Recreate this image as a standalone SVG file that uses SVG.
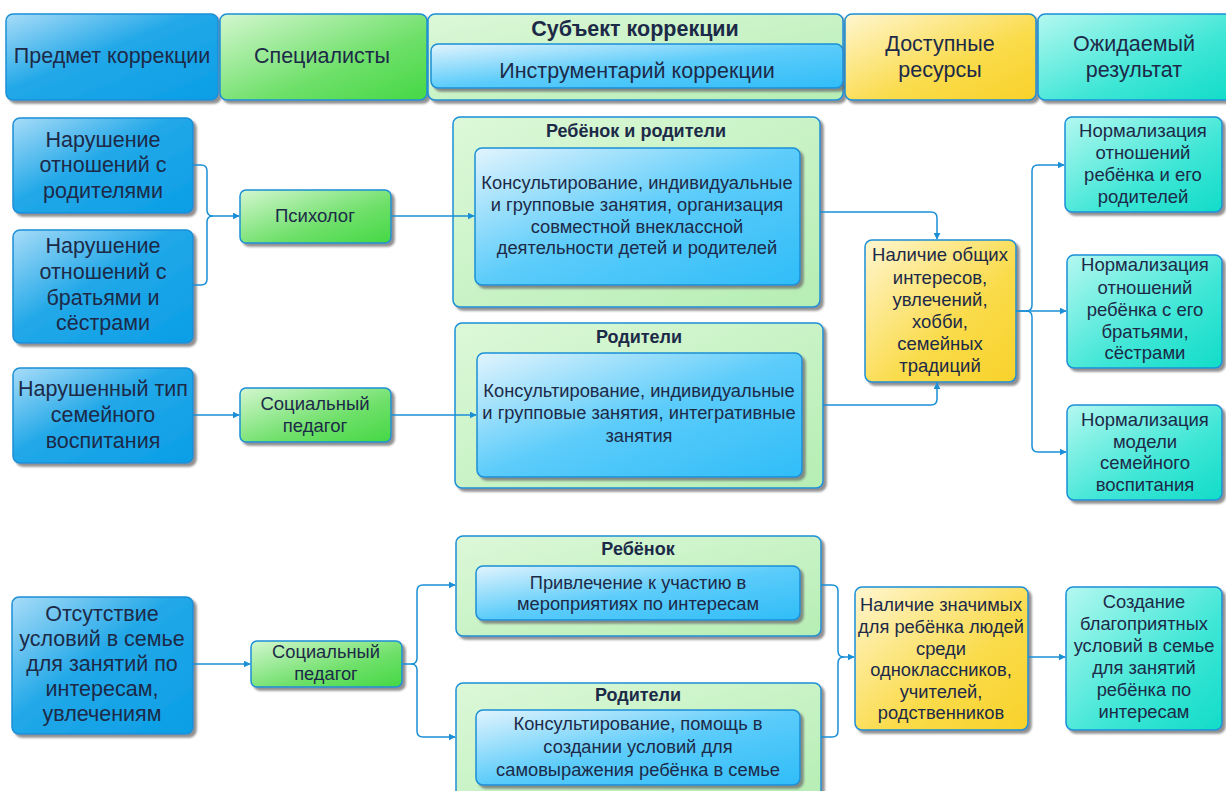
<svg xmlns="http://www.w3.org/2000/svg" width="1226" height="791" viewBox="0 0 1226 791">
<defs>
<linearGradient id="gBlue" x1="0" y1="0" x2="1" y2="1"><stop offset="0" stop-color="#a8dcf8"/><stop offset="0.45" stop-color="#22a8e8"/><stop offset="1" stop-color="#0a9ee6"/></linearGradient>
<linearGradient id="gGreen" x1="0" y1="0" x2="1" y2="1"><stop offset="0" stop-color="#d4f7d0"/><stop offset="0.6" stop-color="#6fe06a"/><stop offset="1" stop-color="#45d845"/></linearGradient>
<linearGradient id="gLGreen" x1="0" y1="0" x2="1" y2="1"><stop offset="0" stop-color="#dcf8d8"/><stop offset="1" stop-color="#b6eeb4"/></linearGradient>
<linearGradient id="gInner" x1="0" y1="0" x2="1" y2="1"><stop offset="0" stop-color="#e2f4fd"/><stop offset="0.5" stop-color="#5cccfa"/><stop offset="1" stop-color="#30bdf8"/></linearGradient>
<linearGradient id="gYellow" x1="0" y1="0" x2="1" y2="1"><stop offset="0" stop-color="#fff6d0"/><stop offset="0.6" stop-color="#fadb4a"/><stop offset="1" stop-color="#f8d22a"/></linearGradient>
<linearGradient id="gTeal" x1="0" y1="0" x2="1" y2="1"><stop offset="0" stop-color="#b4f8f0"/><stop offset="0.6" stop-color="#3fe6d6"/><stop offset="1" stop-color="#12dcc8"/></linearGradient>
<filter id="sh" x="-5%" y="-5%" width="115%" height="120%"><feDropShadow dx="3" dy="3" stdDeviation="1" flood-color="#6a6a6a" flood-opacity="0.75"/></filter>
<marker id="arr" viewBox="0 0 10 10" refX="9" refY="5" markerWidth="7" markerHeight="7" orient="auto" markerUnits="userSpaceOnUse"><path d="M0,0 L10,5 L0,10 z" fill="#1a8fd6"/></marker>
<style>
.box{stroke:#1a8fd6;stroke-width:1.5;filter:url(#sh)}
.blue{fill:url(#gBlue)}
.green{fill:url(#gGreen)}
.lgreen{fill:url(#gLGreen)}
.inner{fill:url(#gInner)}
.yellow{fill:url(#gYellow)}
.teal{fill:url(#gTeal)}
text{font-family:"Liberation Sans",Arial,sans-serif;fill:#1c2a48;text-anchor:middle}
.h{font-size:21.5px}
.hb{font-size:21.5px;font-weight:bold}
.l{font-size:21.5px}
.m{font-size:18.5px}
.s{font-size:18.3px}
.t{font-size:18px;font-weight:bold}
.c{fill:none;stroke:#1a8fd6;stroke-width:1.5}
</style>
</defs>
<rect width="1226" height="791" fill="#ffffff"/>

<g id="header">
<g id="h1"><rect class="box blue" x="6" y="14" width="212" height="86" rx="7"/><text class="h" x="112" y="63">Предмет коррекции</text></g>
<g id="h2"><rect class="box green" x="220" y="14" width="207" height="86" rx="7"/><text class="h" x="322" y="63">Специалисты</text></g>
<g id="h3"><rect class="box lgreen" x="428" y="14" width="415" height="86" rx="7"/><text class="hb" x="635" y="36">Субъект коррекции</text>
<rect class="box inner" x="431" y="44" width="412" height="44" rx="7"/><text class="h" x="637" y="78">Инструментарий коррекции</text></g>
<g id="h4"><rect class="box yellow" x="845" y="14" width="191" height="86" rx="7"/><text class="h" x="940" y="51">Доступные</text><text class="h" x="940" y="77">ресурсы</text></g>
<g id="h5"><rect class="box teal" x="1038" y="14" width="194" height="86" rx="7"/><text class="h" x="1134" y="51">Ожидаемый</text><text class="h" x="1134" y="77">результат</text></g>
</g>

<g id="p1"><rect class="box blue" x="13" y="118" width="180" height="95" rx="7"/>
<text class="l" x="103" y="147">Нарушение</text><text class="l" x="103" y="172">отношений с</text><text class="l" x="103" y="198">родителями</text></g>
<g id="p2"><rect class="box blue" x="13" y="230" width="180" height="113" rx="7"/>
<text class="l" x="103" y="253">Нарушение</text><text class="l" x="103" y="279">отношений с</text><text class="l" x="103" y="305">братьями и</text><text class="l" x="103" y="330">сёстрами</text></g>
<g id="p3"><rect class="box blue" x="13" y="368" width="180" height="95" rx="7"/>
<text class="l" x="103" y="396">Нарушенный тип</text><text class="l" x="103" y="422">семейного</text><text class="l" x="103" y="448">воспитания</text></g>

<g id="s1"><rect class="box green" x="240" y="190" width="151" height="53" rx="6"/><text class="m" x="315" y="222">Психолог</text></g>
<g id="s2"><rect class="box green" x="240" y="388" width="151" height="54" rx="6"/><text class="m" x="315" y="410">Социальный</text><text class="m" x="315" y="432">педагог</text></g>

<g id="g1"><rect class="box lgreen" x="453" y="117" width="367" height="190" rx="7"/><text class="t" x="636" y="137">Ребёнок и родители</text>
<rect class="box inner" x="475" y="148" width="325" height="137" rx="7"/>
<text class="s" x="637" y="189">Консультирование, индивидуальные</text><text class="s" x="637" y="211">и групповые занятия, организация</text><text class="s" x="637" y="233">совместной внеклассной</text><text class="s" x="637" y="254">деятельности детей и родителей</text></g>
<g id="g2"><rect class="box lgreen" x="455" y="323" width="368" height="165" rx="7"/><text class="t" x="639" y="343">Родители</text>
<rect class="box inner" x="477" y="353" width="325" height="124" rx="7"/>
<text class="s" x="639" y="397">Консультирование, индивидуальные</text><text class="s" x="639" y="419">и групповые занятия, интегративные</text><text class="s" x="639" y="442">занятия</text></g>

<g id="r1"><rect class="box yellow" x="865" y="240" width="151" height="142" rx="7"/>
<text class="m" x="940" y="261">Наличие общих</text><text class="m" x="940" y="284">интересов,</text><text class="m" x="940" y="306">увлечений,</text><text class="m" x="940" y="328">хобби,</text><text class="m" x="940" y="350">семейных</text><text class="m" x="940" y="372">традиций</text></g>

<g id="e1"><rect class="box teal" x="1065" y="117" width="157" height="95" rx="7"/>
<text class="m" x="1143" y="137">Нормализация</text><text class="m" x="1143" y="159">отношений</text><text class="m" x="1143" y="181">ребёнка и его</text><text class="m" x="1143" y="203">родителей</text></g>
<g id="e2"><rect class="box teal" x="1067" y="255" width="155" height="113" rx="7"/>
<text class="m" x="1145" y="271">Нормализация</text><text class="m" x="1145" y="294">отношений</text><text class="m" x="1145" y="316">ребёнка с его</text><text class="m" x="1145" y="338">братьями,</text><text class="m" x="1145" y="359">сёстрами</text></g>
<g id="e3"><rect class="box teal" x="1067" y="405" width="155" height="95" rx="7"/>
<text class="m" x="1145" y="426">Нормализация</text><text class="m" x="1145" y="448">модели</text><text class="m" x="1145" y="469">семейного</text><text class="m" x="1145" y="491">воспитания</text></g>

<g id="p4"><rect class="box blue" x="12" y="597" width="181" height="137" rx="7"/>
<text class="l" x="102" y="621">Отсутствие</text><text class="l" x="102" y="646">условий в семье</text><text class="l" x="102" y="671">для занятий по</text><text class="l" x="102" y="696">интересам,</text><text class="l" x="102" y="721">увлечениям</text></g>

<g id="s3"><rect class="box green" x="251" y="641" width="151" height="46" rx="6"/><text class="s" x="326" y="658">Социальный</text><text class="s" x="326" y="680">педагог</text></g>

<g id="g3"><rect class="box lgreen" x="456" y="536" width="365" height="100" rx="7"/><text class="t" x="638" y="555">Ребёнок</text>
<rect class="box inner" x="476" y="566" width="324" height="54" rx="7"/>
<text class="s" x="638" y="589">Привлечение к участию в</text><text class="s" x="638" y="610">мероприятиях по интересам</text></g>
<g id="g4"><rect class="box lgreen" x="456" y="683" width="365" height="115" rx="7"/><text class="t" x="638" y="701">Родители</text>
<rect class="box inner" x="476" y="710" width="324" height="75" rx="7"/>
<text class="s" x="638" y="730">Консультирование, помощь в</text><text class="s" x="638" y="753">создании условий для</text><text class="s" x="638" y="776">самовыражения ребёнка в семье</text></g>

<g id="r2"><rect class="box yellow" x="855" y="587" width="173" height="143" rx="7"/>
<text class="s" x="941" y="611">Наличие значимых</text><text class="s" x="941" y="633">для ребёнка людей</text><text class="s" x="941" y="655">среди</text><text class="s" x="941" y="676">одноклассников,</text><text class="s" x="941" y="698">учителей,</text><text class="s" x="941" y="719">родственников</text></g>

<g id="e4"><rect class="box teal" x="1066" y="587" width="156" height="143" rx="7"/>
<text class="s" x="1144" y="608">Создание</text><text class="s" x="1144" y="630">благоприятных</text><text class="s" x="1144" y="652">условий в семье</text><text class="s" x="1144" y="674">для занятий</text><text class="s" x="1144" y="696">ребёнка по</text><text class="s" x="1144" y="718">интересам</text></g>

<g id="connectors">
<path class="c" d="M193,165 H201 Q207,165 207,171 V210 Q207,216 213,216 H239" marker-end="url(#arr)"/>
<path class="c" d="M193,285 H201 Q207,285 207,279 V222 Q207,216 213,216"/>
<path class="c" d="M193,415 H239" marker-end="url(#arr)"/>
<path class="c" d="M391,216 H474" marker-end="url(#arr)"/>
<path class="c" d="M391,415 H476" marker-end="url(#arr)"/>
<path class="c" d="M820,212 H931 Q937,212 937,218 V239" marker-end="url(#arr)"/>
<path class="c" d="M823,405 H931 Q937,405 937,399 V383" marker-end="url(#arr)"/>
<path class="c" d="M1016,311 H1026 Q1032,311 1032,305 V171 Q1032,165 1038,165 H1064" marker-end="url(#arr)"/>
<path class="c" d="M1016,311 H1066" marker-end="url(#arr)"/>
<path class="c" d="M1026,311 Q1032,311 1032,317 V446 Q1032,452 1038,452 H1066" marker-end="url(#arr)"/>
<path class="c" d="M193,664 H250" marker-end="url(#arr)"/>
<path class="c" d="M402,664 H411 Q417,664 417,658 V591 Q417,585 423,585 H455" marker-end="url(#arr)"/>
<path class="c" d="M411,664 Q417,664 417,670 V731 Q417,737 423,737 H455" marker-end="url(#arr)"/>
<path class="c" d="M821,585 H832 Q838,585 838,591 V651 Q838,657 844,657 H854" marker-end="url(#arr)"/>
<path class="c" d="M821,737 H832 Q838,737 838,731 V663 Q838,657 844,657"/>
<path class="c" d="M1028,657 H1065" marker-end="url(#arr)"/>
</g>
</svg>
